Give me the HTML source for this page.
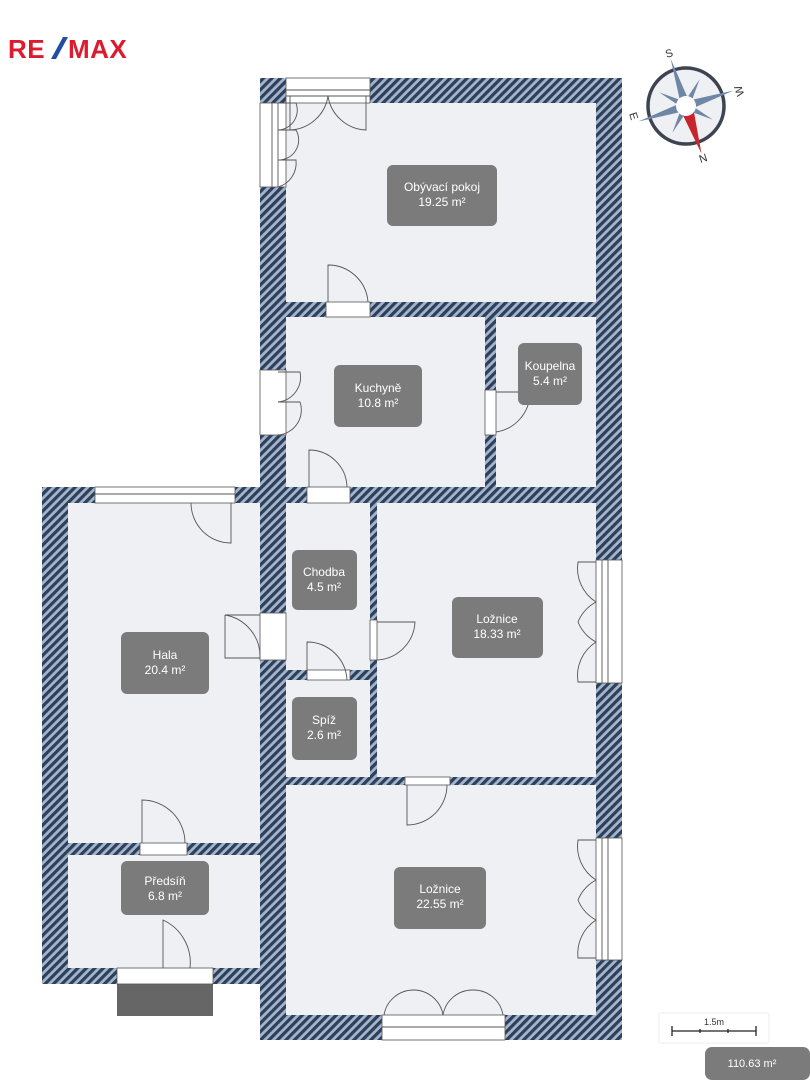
<!DOCTYPE html>
<html><head><meta charset="utf-8"><style>
html,body{margin:0;padding:0;background:#fff;}
svg{display:block;font-family:"Liberation Sans",sans-serif;}
.lbl{fill:#7b7b7b;}
.t{fill:#fff;font-size:12px;text-anchor:middle;}
.w{fill:#fff;stroke:#555;stroke-width:0.8;}
.d{fill:none;stroke:#555;stroke-width:0.9;}
</style></head><body>
<svg width="810" height="1080" viewBox="0 0 810 1080" xmlns="http://www.w3.org/2000/svg">
<defs>
<pattern id="h" patternUnits="userSpaceOnUse" width="6" height="6" patternTransform="rotate(45)">
<rect width="6" height="6" fill="#a3b6cf"/><rect width="3.2" height="6" fill="#2f3f57"/>
</pattern>
</defs>
<rect width="810" height="1080" fill="#fff"/>
<!-- logo -->
<text x="8" y="58" font-size="26" font-weight="bold" fill="#dc1c2e" letter-spacing="0.5">RE</text>
<path d="M51 59 L63 37 L68 37 L56 59 Z" fill="#1f4fa3"/>
<text x="68" y="58" font-size="26" font-weight="bold" fill="#dc1c2e" letter-spacing="0.5">MAX</text>
<!-- walls -->
<polygon points="260,78 622,78 622,1040 260,1040 260,984 42,984 42,487 260,487" fill="url(#h)"/>
<g fill="#eef0f3">
<rect x="286" y="103" width="310" height="199"/>
<rect x="286" y="317" width="199" height="170"/>
<rect x="496" y="317" width="100" height="170"/>
<rect x="68" y="503" width="192" height="340"/>
<rect x="68" y="855" width="192" height="113"/>
<rect x="286" y="503" width="84" height="167"/>
<rect x="286" y="680" width="84" height="97"/>
<rect x="377" y="503" width="219" height="274"/>
<rect x="286" y="785" width="310" height="230"/>
</g>
<rect x="117" y="984" width="96" height="32" fill="#666"/>
<!-- windows / openings -->
<g class="w">
<rect x="286" y="78" width="84" height="25"/>
<rect x="260" y="103" width="26" height="84"/>
<rect x="260" y="370" width="26" height="65"/>
<rect x="95" y="487" width="140" height="16"/>
<rect x="307" y="487" width="43" height="16"/>
<rect x="326" y="302" width="44" height="15"/>
<rect x="596" y="560" width="26" height="123"/>
<rect x="596" y="838" width="26" height="122"/>
<rect x="382" y="1015" width="123" height="25"/>
<rect x="117" y="968" width="96" height="16"/>
<rect x="140" y="843" width="47" height="12"/>
<rect x="260" y="613" width="26" height="47"/>
<rect x="307" y="670" width="43" height="10"/>
<rect x="370" y="620" width="7" height="40"/>
<rect x="405" y="777" width="45" height="8"/>
<rect x="485" y="390" width="11" height="45"/>
</g>
<g class="d">
<line x1="286" y1="90" x2="370" y2="90"/><line x1="286" y1="96" x2="370" y2="96"/>
<path d="M290 96 V130 A40 40 0 0 0 328 96"/><path d="M366 96 V130 A40 40 0 0 1 328 96"/>
<line x1="272" y1="103" x2="272" y2="187"/><line x1="278" y1="103" x2="278" y2="187"/>
<path d="M278 103 H296 A20 20 0 0 1 278 130"/><path d="M278 130 H296 A20 20 0 0 1 278 160"/><path d="M278 160 H296 A25 25 0 0 1 278 187"/>
<path d="M278 372 H300 A25 25 0 0 1 278 402"/><path d="M278 402 H300 A25 25 0 0 1 278 435"/>
<line x1="95" y1="494" x2="235" y2="494"/><path d="M231 503 V543 A40 40 0 0 1 191 503"/>
<path d="M309 487 V450 A38 38 0 0 1 347 487"/>
<path d="M328 302 V265 A40 40 0 0 1 368 302"/>
<path d="M496 392 H530 A40 40 0 0 1 496 432"/>
<path d="M260 615 H225 A42 42 0 0 1 260 658" /><path d="M225 615 V658 H260"/>
<path d="M307 680 V642 A40 40 0 0 1 347 680"/>
<path d="M377 622 H415 A40 40 0 0 1 377 660"/>
<path d="M407 785 V825 A40 40 0 0 0 447 785"/>
<path d="M142 843 V800 A43 43 0 0 1 185 843"/>
<path d="M163 968 V920 A47 47 0 0 1 190 968"/>
<line x1="608" y1="560" x2="608" y2="683"/><line x1="602" y1="560" x2="602" y2="683"/>
<path d="M596 562 H578 A40 40 0 0 0 596 602"/><path d="M596 602 A40 40 0 0 0 578 622 A40 40 0 0 0 596 642"/><path d="M596 642 A40 40 0 0 0 578 682 H596"/>
<line x1="608" y1="838" x2="608" y2="960"/><line x1="602" y1="838" x2="602" y2="960"/>
<path d="M596 840 H578 A40 40 0 0 0 596 880"/><path d="M596 880 A40 40 0 0 0 578 900 A40 40 0 0 0 596 920"/><path d="M596 920 A40 40 0 0 0 578 958 H596"/>
<line x1="382" y1="1027" x2="505" y2="1027"/>
<path d="M384 1015 A30 30 0 0 1 414 990 A30 30 0 0 1 443 1015"/><path d="M443 1015 A30 30 0 0 1 473 990 A30 30 0 0 1 503 1015"/>
</g>
<!-- labels -->
<rect class="lbl" x="387" y="165" width="110" height="61" rx="6"/><text class="t" x="442" y="191">Obývací pokoj</text><text class="t" x="442" y="206">19.25 m²</text>
<rect class="lbl" x="334" y="365" width="88" height="62" rx="6"/><text class="t" x="378" y="392">Kuchyně</text><text class="t" x="378" y="407">10.8 m²</text>
<rect class="lbl" x="518" y="343" width="64" height="62" rx="6"/><text class="t" x="550" y="370">Koupelna</text><text class="t" x="550" y="385">5.4 m²</text>
<rect class="lbl" x="292" y="550" width="65" height="60" rx="6"/><text class="t" x="324" y="576">Chodba</text><text class="t" x="324" y="591">4.5 m²</text>
<rect class="lbl" x="452" y="597" width="91" height="61" rx="6"/><text class="t" x="497" y="623">Ložnice</text><text class="t" x="497" y="638">18.33 m²</text>
<rect class="lbl" x="121" y="632" width="88" height="62" rx="6"/><text class="t" x="165" y="659">Hala</text><text class="t" x="165" y="674">20.4 m²</text>
<rect class="lbl" x="292" y="697" width="65" height="63" rx="6"/><text class="t" x="324" y="724">Spíž</text><text class="t" x="324" y="739">2.6 m²</text>
<rect class="lbl" x="121" y="861" width="88" height="54" rx="6"/><text class="t" x="165" y="885">Předsíň</text><text class="t" x="165" y="900">6.8 m²</text>
<rect class="lbl" x="394" y="867" width="92" height="62" rx="6"/><text class="t" x="440" y="893">Ložnice</text><text class="t" x="440" y="908">22.55 m²</text>
<!-- compass -->
<g transform="translate(686,106)">
<circle r="38" fill="#eef0f3" stroke="#3d4350" stroke-width="3.5"/>
<g transform="rotate(-18)" fill="#6f86a6">
<polygon points="0,-50 4,-8 -4,-8"/>
<polygon points="50,0 8,4 8,-4"/>
<polygon points="-50,0 -8,4 -8,-4"/>
<polygon points="0,-30 3,-5 -3,-5" transform="rotate(45)"/>
<polygon points="0,-30 3,-5 -3,-5" transform="rotate(135)"/>
<polygon points="0,-30 3,-5 -3,-5" transform="rotate(225)"/>
<polygon points="0,-30 3,-5 -3,-5" transform="rotate(315)"/>
<polygon points="0,50 6,6 -6,6" fill="#c8242b"/>
<circle r="10" fill="#fff"/>
</g>
<text x="-17" y="-49" font-size="11" fill="#333" text-anchor="middle" transform="rotate(-18 -17 -53)">S</text>
<text x="53" y="-11" font-size="11" fill="#333" text-anchor="middle" transform="rotate(-108 53 -15)">W</text>
<text x="-52" y="14" font-size="11" fill="#333" text-anchor="middle" transform="rotate(72 -52 10)">E</text>
<text x="17" y="56" font-size="11" fill="#333" text-anchor="middle" transform="rotate(-18 17 52)">N</text>
</g>
<!-- scale -->
<rect x="659" y="1013" width="110" height="30" rx="2" fill="#fff" stroke="#eee"/>
<text x="714" y="1025" font-size="9" fill="#333" text-anchor="middle">1.5m</text>
<g stroke="#222" stroke-width="1.3"><line x1="672" y1="1031" x2="756" y2="1031"/><line x1="672" y1="1026" x2="672" y2="1036"/><line x1="756" y1="1026" x2="756" y2="1036"/><line x1="700" y1="1029" x2="700" y2="1033"/><line x1="728" y1="1029" x2="728" y2="1033"/></g>
<rect x="705" y="1047" width="105" height="33" rx="7" fill="#7b7b7b"/>
<text x="752" y="1067" font-size="11" fill="#fff" text-anchor="middle">110.63 m²</text>
</svg>
</body></html>
